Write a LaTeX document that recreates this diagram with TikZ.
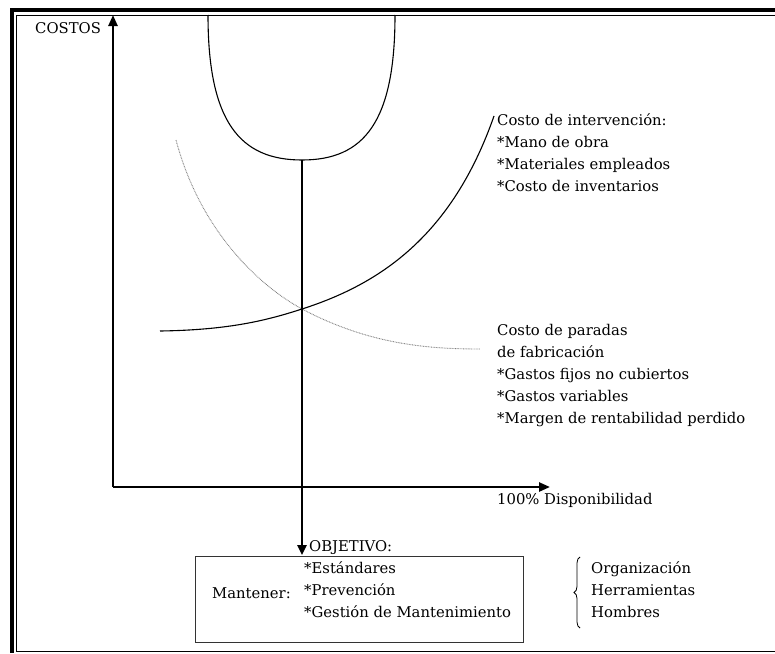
\documentclass[tikz,border=0pt]{standalone}
\usepackage{fontspec}
\setmainfont{DejaVu Serif}
\usetikzlibrary{arrows.meta,decorations.pathreplacing}
\begin{document}
\begin{tikzpicture}[x=1pt,y=-1pt,
  lbl/.style={anchor=west,inner sep=0pt,font=\fontsize{14.8}{22}\selectfont},
  lines/.style={lbl,align=left},
  axis/.style={line width=2.4pt,-{Triangle[length=11pt,width=9pt]}},
  curve/.style={line width=1.1pt},
  dotcurve/.style={line width=0.9pt,gray,dash pattern=on 0.8pt off 0.8pt}]
\useasboundingbox (0,0) rectangle (775,653);
% double frame
\draw[line width=4pt] (12,653) -- (12,10) -- (775,10);
\draw[line width=1.6pt] (775,15.5) -- (16.5,15.5) -- (16.5,651.5) -- (775,651.5);
% axes
\coordinate (o) at (113,487);
\coordinate (ytip) at (113,15);
\coordinate (xtip) at (550,487);
\draw[axis] (o) -- (ytip);
\draw[axis] (o) -- (xtip);
\node[lbl] (costos) at (35,28) {COSTOS};
\node[lbl] (disp) at (497,500) {100\% Disponibilidad};
% U-shaped total cost
\coordinate (ubot) at (302,160);
\draw[curve] (208,15) .. controls (208,122) and (240,160) .. (ubot)
  .. controls (364,160) and (395,122) .. (395,15);
% intervention cost curve
\coordinate (cross) at (302,309);
\draw[curve] (160,331) .. controls (230,330) and (268,320) .. (cross)
  .. controls (380,284) and (452,236) .. (494,116);
% downtime cost curve
\draw[dotcurve] (176,140) .. controls (200,230) and (258,285) .. (cross)
  .. controls (370,345) and (430,349) .. (480,349);
% objective arrow
\node[lbl] (obj) at (309,548) {OBJETIVO:};
\coordinate (tip) at (302,555);
\draw[line width=2.4pt,-{Triangle[length=10pt,width=9pt]}] (ubot) -- (tip);
% labels of the curves
\node[lines,anchor=north west] (interv) at (497,113) {Costo de intervención:\\*Mano de obra\\*Materiales empleados\\*Costo de inventarios};
\node[lines,anchor=north west] (paradas) at (497,324) {Costo de paradas\\de fabricación\\*Gastos fijos no cubiertos\\*Gastos variables\\*Margen de rentabilidad perdido};
% objective box
\node[draw=black!80,line width=1pt,minimum width=328pt,minimum height=86pt,anchor=north west,inner sep=0pt] (box) at (195,556) {};
\node[lbl] (mant) at (212,593) {Mantener:};
\node[lines,anchor=north west] (items) at (304,561) {*Estándares\\*Prevención\\*Gestión de Mantenimiento};
% brace and resources
\draw[line width=0.8pt,decorate,decoration={brace,amplitude=6pt}] (580,628) -- (580,557);
\node[lines,anchor=north west] (res) at (591,561) {Organización\\Herramientas\\Hombres};
\end{tikzpicture}
\end{document}
